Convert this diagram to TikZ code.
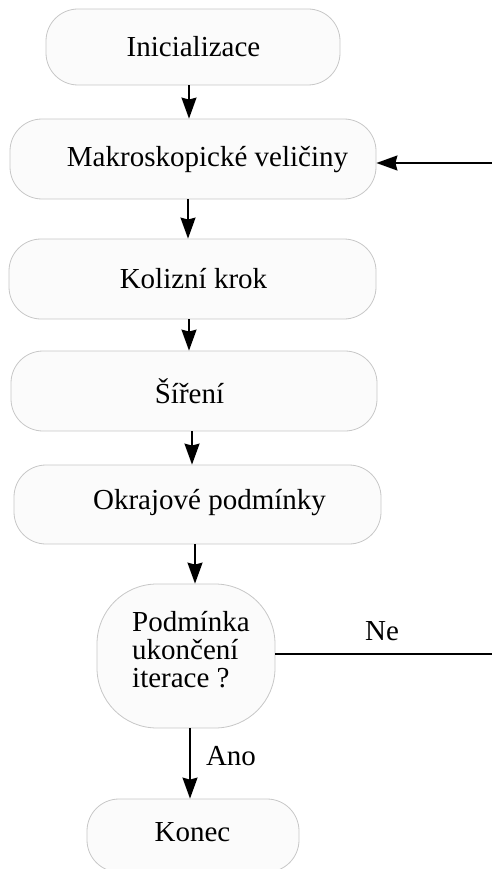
\documentclass[tikz,border=0pt]{standalone}
\usepackage{fontspec}
\setmainfont{Liberation Serif}
\usetikzlibrary{arrows.meta}
\begin{document}
\begin{tikzpicture}[x=1pt,y=-1pt,
 box/.style={draw=black!22, fill=black!1.5, line width=0.8pt, rounded corners=32pt, inner sep=0pt},
 txt/.style={font=\fontsize{29}{28}\selectfont, inner sep=0pt},
 arr/.style={line width=1.8pt, -{Stealth[length=21pt,width=15pt,inset=2pt]}},
 ln/.style={line width=1.8pt}]
\useasboundingbox (0,0) rectangle (491,869);
% boxes
\node[box, minimum width=294pt, minimum height=76pt] (ini) at (193,47) {};
\node[box, minimum width=366pt, minimum height=80pt] (mak) at (193,159) {};
\node[box, minimum width=367pt, minimum height=80pt] (kol) at (192.5,279) {};
\node[box, minimum width=366pt, minimum height=80pt] (sir) at (194,391) {};
\node[box, minimum width=367pt, minimum height=79pt] (okr) at (197.5,504.5) {};
\node[box, minimum width=178pt, minimum height=144pt, rounded corners=60pt] (pod) at (186,656) {};
\node[box, minimum width=212pt, minimum height=73pt] (kon) at (193,835.5) {};
% texts
\node[txt] (tini) at (193.5,47) {Inicializace};
\node[txt] (tmak) at (207.5,160) {Makroskopické veličiny};
\node[txt] (tkol) at (193.5,279) {Kolizní krok};
\node[txt] (tsir) at (189.5,391) {Šíření};
\node[txt] (tokr) at (209.5,503) {Okrajové podmínky};
\node[txt, align=left, anchor=west] (tpod) at (132,650) {Podmínka\\ukončení\\iterace ?};
\node[txt] (tkon) at (192.5,832) {Konec};
\node[txt] (lne) at (382,631) {Ne};
\node[txt] (lano) at (231,756) {Ano};
% connectors
\draw[arr] ([xshift=-4pt]ini.south) -- ([xshift=-4pt]ini.south |- mak.north);
\draw[arr] ([xshift=-5pt]mak.south) -- ([xshift=-5pt]mak.south |- kol.north);
\draw[arr] ([xshift=-3.5pt]kol.south) -- ([xshift=-3.5pt]kol.south |- sir.north);
\draw[arr] ([xshift=-2pt]sir.south) -- ([xshift=-2pt]sir.south |- okr.north);
\draw[arr] ([xshift=-2.5pt]okr.south) -- ([xshift=-2.5pt]okr.south |- pod.north);
\draw[arr] ([xshift=4pt]pod.south) -- ([xshift=4pt]pod.south |- kon.north);
\coordinate (r1) at (494,163);
\coordinate (r2) at (494,654);
\draw[ln] (pod.east |- r2) -- (r2);
\draw[arr] (r1) -- (mak.east |- r1);
\end{tikzpicture}
\end{document}
